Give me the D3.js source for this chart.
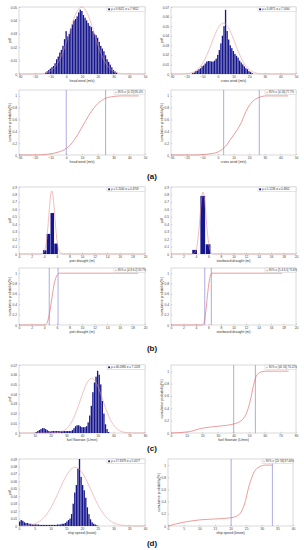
<!DOCTYPE html>
<html>
<meta charset="utf-8">
<style>
body { margin: 0; background: #fff; font-family: "Liberation Sans", Arial, sans-serif; }
.frame { fill: #fff; stroke: #b4b4b4; stroke-width: 0.5px; }
.axis .domain { display: none; }
.axis .tick line { stroke: #999; stroke-width: 0.4px; }
.axis .tick text { font-size: 3.3px; fill: #444; font-family: "Liberation Sans", Arial, sans-serif; }
.bar { fill: #15158c; }
.fit { fill: none; stroke: #e99090; stroke-width: 0.6px; }
.cdf { fill: none; stroke: #e25a5a; stroke-width: 0.6px; }
.vline { stroke: #7474d2; stroke-width: 0.6px; }
.alabel { font-size: 3.5px; fill: #333; text-anchor: middle; }
.leg { font-size: 2.8px; fill: #333; }
.legbox { fill: #fff; stroke: #aaa; stroke-width: 0.3px; }
.plabel { font-size: 8px; font-weight: bold; text-anchor: middle; fill: #111; }
</style>
<body>
<script src="https://d3js.org/d3.v7.min.js"></script>
<script>

// ---- data ----

// (a) head wind histogram, 1 m/s bins (centres)
var headWindBins = d3.range(-13, 33);
var headWindPdf = [0.001, 0.002, 0.003, 0.004, 0.005, 0.006, 0.008, 0.011, 0.013, 0.016,
  0.018, 0.021, 0.026, 0.032, 0.028, 0.030, 0.034, 0.037, 0.040, 0.041,
  0.043, 0.046, 0.048, 0.047, 0.044, 0.042, 0.040, 0.038, 0.036, 0.035,
  0.032, 0.030, 0.029, 0.027, 0.024, 0.021, 0.019, 0.017, 0.014, 0.011,
  0.009, 0.007, 0.005, 0.003, 0.002, 0.001];
var headWindFit = {mu: 9.8021, sigma: 7.9812};
var headWindCdfX = [-30, -20, -15, -10, -5, 0, 5, 10, 15, 20, 25, 30, 35, 46];
var headWindCdfP = [0, 0, 0.005, 0.02, 0.05, 0.11, 0.25, 0.47, 0.7, 0.87, 0.96, 0.99, 1, 1];
var headWindBounds = [0, 25];

// (a) cross wind
var crossWindBins = d3.range(-16, 23);
var crossWindPdf = [0.001, 0.0015, 0.003, 0.0035, 0.005, 0.006, 0.008, 0.009, 0.011, 0.013,
  0.0135, 0.0135, 0.013, 0.013, 0.014, 0.016, 0.020, 0.025, 0.032, 0.040,
  0.050, 0.067, 0.045, 0.036, 0.030, 0.027, 0.024, 0.021, 0.019, 0.017,
  0.014, 0.012, 0.010, 0.008, 0.006, 0.005, 0.003, 0.002, 0.001];
var crossWindFit = {mu: 3.4871, sigma: 7.5064};
var crossWindCdfX = [-30, -15, -10, -5, 0, 2, 5, 9, 12, 15, 18, 21, 25, 31, 45];
var crossWindCdfP = [0, 0, 0.005, 0.02, 0.05, 0.08, 0.15, 0.3, 0.41, 0.55, 0.74, 0.87, 0.96, 1, 1];
var crossWindBounds = [3.7, 26.5];

// (b) port draught
var portBins = [4.1, 4.7, 5.3, 5.9];
var portPdf = [0.05, 0.27, 0.55, 0.14];
var portFit = {mu: 5.2044, sigma: 0.4709};
var portCdfX = [0, 4.0, 4.4, 4.8, 5.2, 5.6, 6.0, 6.4, 18.9];
var portCdfP = [0, 0, 0.03, 0.2, 0.5, 0.8, 0.95, 1, 1];
var portBounds = [4.8, 6.2];

// (b) starboard draught
var stbdBins = [3.8, 5.1, 5.95];
var stbdPdf = [0.055, 0.78, 0.13];
var stbdFit = {mu: 5.1236, sigma: 0.4802};
var stbdCdfX = [0, 5.0, 5.3, 5.6, 5.9, 6.2, 6.5, 17.8];
var stbdCdfP = [0, 0, 0.05, 0.3, 0.65, 0.9, 1, 1];
var stbdBounds = [5.4, 6.45];

// (c) fuel flowrate, 1 L/min bins
var fuelBins = d3.range(11, 58);
var fuelPdf = [0.001, 0.002, 0.003, 0.004, 0.005, 0.005, 0.004, 0.003, 0.002, 0.0015,
  0.002, 0.002, 0.002, 0.002, 0.002, 0.002, 0.002, 0.002, 0.002, 0.002,
  0.002, 0.002, 0.002, 0.003, 0.005, 0.007, 0.008, 0.008, 0.007, 0.006,
  0.006, 0.006, 0.007, 0.011, 0.018, 0.028, 0.042, 0.052, 0.058, 0.064,
  0.060, 0.050, 0.033, 0.020, 0.009, 0.004, 0.001];
var fuelFit = {mu: 46.0986, sigma: 7.1033};
var fuelCdfX = [0, 11.3, 19.8, 30.5, 40.1, 45.4, 48.6, 50.8, 52.9, 55, 58.2, 61.4, 75.3];
var fuelCdfP = [0, 0.02, 0.077, 0.11, 0.146, 0.21, 0.34, 0.53, 0.78, 0.94, 0.99, 1, 1];
var fuelBounds = [40.1, 54];

// (d) ship speed, 0.5 knot bins
var speedBins = d3.range(0.25, 25, 0.5);
var speedPdf = [0.006, 0.008, 0.007, 0.005, 0.004, 0.004, 0.003, 0.003, 0.002, 0.002,
  0.002, 0.002, 0.002, 0.0015, 0.0015, 0.0015, 0.0015, 0.0015, 0.0015, 0.0015,
  0.0015, 0.0015, 0.0015, 0.0015, 0.002, 0.002, 0.002, 0.003, 0.003, 0.004,
  0.006, 0.008, 0.010, 0.016, 0.030, 0.045, 0.055, 0.077, 0.090, 0.066,
  0.055, 0.048, 0.038, 0.025, 0.016, 0.009, 0.005, 0.003, 0.002, 0.001];
var speedFit = {mu: 17.8378, sigma: 5.0577};
var speedCdfX = [0, 4.8, 10.1, 14.9, 20.2, 22.8, 24.4, 26, 27.6, 29.2, 31.3, 33.4];
var speedCdfP = [0, 0.06, 0.1, 0.115, 0.136, 0.19, 0.345, 0.67, 0.89, 0.97, 1, 1];
var speedBounds = [20.2, 33.4];

var svg = d3.select("body").append("svg")
    .attr("width", 304)
    .attr("height", 550);

// draws frame + axes, returns scales
function panel(b, xd, xt, yd, yt, yfmt, xlab, ylab) {
  var x = d3.scaleLinear().domain(xd).range([b.x0, b.x1]);
  var y = d3.scaleLinear().domain(yd).range([b.y1, b.y0]);
  svg.append("rect").attr("class", "frame")
      .attr("x", b.x0).attr("y", b.y0)
      .attr("width", b.x1 - b.x0).attr("height", b.y1 - b.y0);
  svg.append("g").attr("class", "axis")
      .attr("transform", "translate(0," + b.y1 + ")")
      .call(d3.axisBottom(x).tickValues(xt).tickSize(-1.3).tickPadding(1.6)
        .tickFormat(d3.format("~g")));
  svg.append("g").attr("class", "axis")
      .attr("transform", "translate(" + b.x0 + ",0)")
      .call(d3.axisLeft(y).tickValues(yt).tickSize(-1.3).tickPadding(1.8)
        .tickFormat(yfmt));
  svg.append("text").attr("class", "alabel")
      .attr("x", (b.x0 + b.x1) / 2).attr("y", b.y1 + 8)
      .text(xlab);
  svg.append("text").attr("class", "alabel")
      .attr("transform", "translate(" + (b.x0 - 8.5) + "," + ((b.y0 + b.y1) / 2) + ") rotate(-90)")
      .text(ylab);
  return {x: x, y: y, b: b};
}

function histPanel(b, xd, xt, yd, yt, yfmt, xlab, bins, pdf, bw, fit) {
  var p = panel(b, xd, xt, yd, yt, yfmt, xlab, "pdf");
  svg.append("g").selectAll("rect")
    .data(bins)
    .join("rect")
      .attr("class", "bar")
      .attr("x", function(d) { return p.x(d - bw / 2); })
      .attr("width", function(d) { return Math.max(0.4, p.x(d + bw / 2) - p.x(d - bw / 2) - 0.25); })
      .attr("y", function(d, i) { return p.y(pdf[i]); })
      .attr("height", function(d, i) { return p.y(0) - p.y(pdf[i]); });

  // fitted normal pdf from the legend parameters
  var xs = d3.range(xd[0], xd[1] + 1e-9, (xd[1] - xd[0]) / 400);
  var norm = function(v) {
    return Math.exp(-0.5 * Math.pow((v - fit.mu) / fit.sigma, 2)) / (fit.sigma * Math.sqrt(2 * Math.PI));
  };
  svg.append("path").attr("class", "fit")
      .datum(xs)
      .attr("d", d3.line().x(function(d) { return p.x(d); }).y(function(d) { return p.y(norm(d)); }));

  // legend
  var lw = 38;
  svg.append("rect").attr("class", "legbox")
      .attr("x", b.x1 - lw).attr("y", b.y0).attr("width", lw).attr("height", 4.6);
  svg.append("rect").attr("fill", "#15158c")
      .attr("x", b.x1 - lw + 1.2).attr("y", b.y0 + 1.4).attr("width", 1.8).attr("height", 1.8);
  svg.append("text").attr("class", "leg")
      .attr("x", b.x1 - lw + 4).attr("y", b.y0 + 3.3)
      .text("\u03bc = " + fit.mu.toFixed(4) + "  \u03c3 = " + fit.sigma.toFixed(4));
}

function cdfPanel(b, xd, xt, xlab, cx, cp, bounds, legtxt) {
  var p = panel(b, xd, xt, [0, 1.1], [0, 0.2, 0.4, 0.6, 0.8, 1], d3.format("~g"), xlab,
    "cumulative probability(%)");
  svg.append("g").selectAll("line")
    .data(bounds)
    .join("line")
      .attr("class", "vline")
      .attr("x1", function(d) { return p.x(d); })
      .attr("x2", function(d) { return p.x(d); })
      .attr("y1", b.y0).attr("y2", b.y1);
  svg.append("path").attr("class", "cdf")
      .datum(d3.zip(cx, cp))
      .attr("d", d3.line().curve(d3.curveMonotoneX)
        .x(function(d) { return p.x(d[0]); })
        .y(function(d) { return p.y(d[1]); }));
  var lw = 31;
  svg.append("rect").attr("class", "legbox")
      .attr("x", b.x1 - lw).attr("y", b.y0).attr("width", lw).attr("height", 4.6);
  svg.append("line").attr("stroke", "#e25a5a").attr("stroke-width", 0.5)
      .attr("x1", b.x1 - lw + 1).attr("x2", b.x1 - lw + 3)
      .attr("y1", b.y0 + 2.3).attr("y2", b.y0 + 2.3);
  svg.append("text").attr("class", "leg")
      .attr("x", b.x1 - lw + 3.8).attr("y", b.y0 + 3.3)
      .text(legtxt);
}

var fmt2 = function(d) { return d === 0 ? "0" : d3.format(".2f")(d); };
var fmt1 = function(d) { return d === 0 ? "0" : d3.format(".1f")(d); };
var windTicks = d3.range(-30, 51, 10);
var draughtTicks = d3.range(0, 21, 2);

// (a)
histPanel({x0: 19, x1: 145, y0: 7, y1: 74}, [-30, 50], windTicks, [0, 0.05], d3.range(0, 0.051, 0.01), fmt2,
  "head wind (m/s)", headWindBins, headWindPdf, 1, headWindFit);
histPanel({x0: 171, x1: 296, y0: 7, y1: 74}, [-30, 50], windTicks, [0, 0.07], d3.range(0, 0.071, 0.01), fmt2,
  "cross wind (m/s)", crossWindBins, crossWindPdf, 1, crossWindFit);
cdfPanel({x0: 19, x1: 145, y0: 90, y1: 155}, [-30, 50], windTicks, "head wind (m/s)",
  headWindCdfX, headWindCdfP, headWindBounds, "95% u: [0 25] 85.4%");
cdfPanel({x0: 171, x1: 296, y0: 90, y1: 155}, [-30, 50], windTicks, "cross wind (m/s)",
  crossWindCdfX, crossWindCdfP, crossWindBounds, "95% u: [4 26] 77.7%");

// (b)
histPanel({x0: 19, x1: 145, y0: 187, y1: 254}, [0, 20], draughtTicks, [0, 0.9], d3.range(0, 0.91, 0.1), fmt1,
  "port draught (m)", portBins, portPdf, 0.6, portFit);
histPanel({x0: 171, x1: 296, y0: 187, y1: 254}, [0, 20], draughtTicks, [0, 0.9], d3.range(0, 0.91, 0.1), fmt1,
  "starboard draught (m)", stbdBins, stbdPdf, 0.8, stbdFit);
cdfPanel({x0: 19, x1: 145, y0: 268, y1: 325}, [0, 20], draughtTicks, "port draught (m)",
  portCdfX, portCdfP, portBounds, "95% u: [4.8 6.2] 92.7%");
cdfPanel({x0: 171, x1: 296, y0: 268, y1: 325}, [0, 20], draughtTicks, "starboard draught (m)",
  stbdCdfX, stbdCdfP, stbdBounds, "95% u: [5.4 6.5] 75.6%");

// (c)
histPanel({x0: 19, x1: 145, y0: 365, y1: 433}, [0, 80], d3.range(0, 81, 10), [0, 0.07], d3.range(0, 0.071, 0.01), fmt2,
  "fuel flowrate (L/min)", fuelBins, fuelPdf, 1, fuelFit);
cdfPanel({x0: 171, x1: 296, y0: 365, y1: 433}, [0, 80], d3.range(0, 81, 10), "fuel flowrate (L/min)",
  fuelCdfX, fuelCdfP, fuelBounds, "95% u: [40 54] 76.12%");

// (d)
histPanel({x0: 19, x1: 145, y0: 459, y1: 526}, [0, 40], d3.range(0, 41, 5), [0, 0.09], d3.range(0, 0.091, 0.01), fmt2,
  "ship speed (knots)", speedBins, speedPdf, 0.5, speedFit);
cdfPanel({x0: 168, x1: 293, y0: 459, y1: 526}, [0, 40], d3.range(0, 41, 5), "ship speed (knots)",
  speedCdfX, speedCdfP, speedBounds, "95% u: [20 33] 87.44%");

// sub-figure labels
var plabels = ["(a)", "(b)", "(c)", "(d)"];
var plabelY = [179, 351, 451, 546];
svg.selectAll("text.plabel")
  .data(plabels)
  .join("text")
    .attr("class", "plabel")
    .attr("x", 152)
    .attr("y", function(d, i) { return plabelY[i]; })
    .text(function(d) { return d; });

</script>
</body>
</html>
